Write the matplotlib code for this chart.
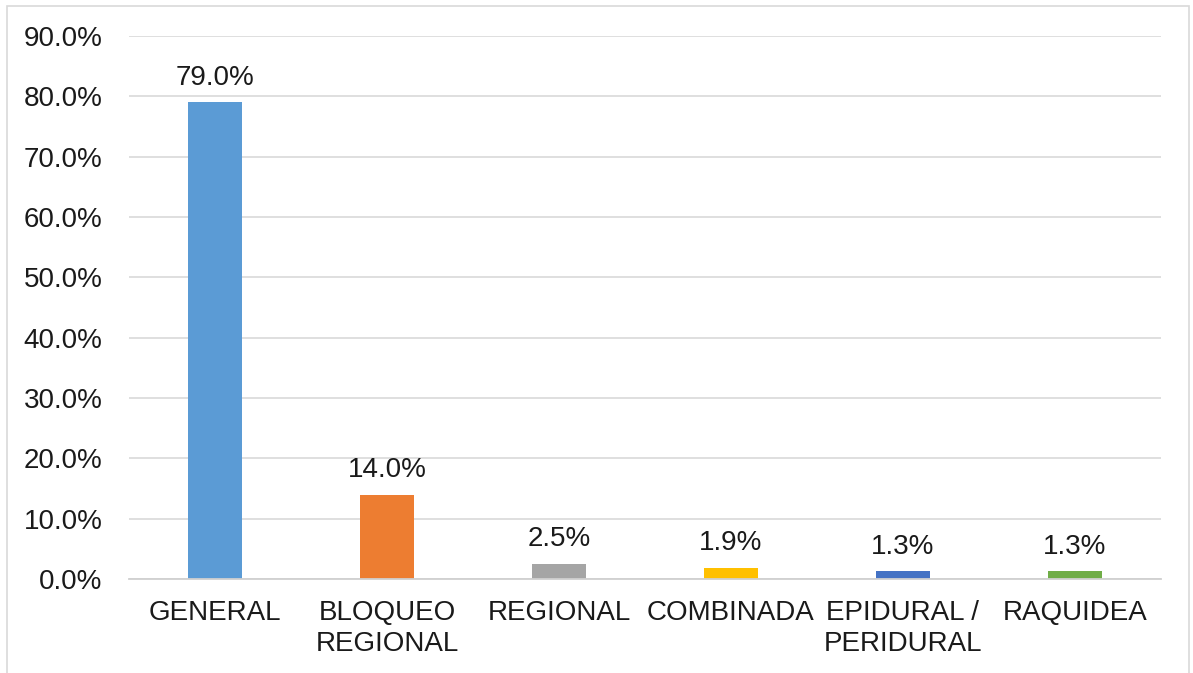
import matplotlib
matplotlib.use("Agg")
import matplotlib.pyplot as plt
from matplotlib.patches import Rectangle
from matplotlib.ticker import FuncFormatter

categories = ["GENERAL", "BLOQUEO\nREGIONAL", "REGIONAL", "COMBINADA", "EPIDURAL /\nPERIDURAL", "RAQUIDEA"]
values = [79.0, 14.0, 2.5, 1.9, 1.3, 1.3]
colors = ["#5B9BD5", "#ED7D31", "#A5A5A5", "#FFC000", "#4472C4", "#70AD47"]

plt.rcParams["font.family"] = ["Liberation Sans", "DejaVu Sans"]

W, H = 1193, 673
fs = 20
fig = plt.figure(figsize=(W / 100, H / 100), dpi=100)
ax = fig.add_axes([129 / W, 1 - 579 / H, (1161 - 129) / W, (579 - 36) / H])

x = range(len(categories))
ax.bar(x, values, width=0.314, color=colors, zorder=3)

# value labels sit a little above each bar
for xi, v in zip(x, values):
    ax.text(xi, v + 2.9, "{:.1f}%".format(v), ha="center", va="baseline", fontsize=fs, color="#1a1a1a")

ax.set_xlim(-0.5, len(categories) - 0.5)
ax.set_ylim(0, 90)
ax.set_yticks(range(0, 91, 10))
ax.yaxis.set_major_formatter(FuncFormatter(lambda v, p: "{:.1f}%".format(v)))
ax.set_xticks(list(x))
ax.set_xticklabels(categories, fontsize=fs, color="#1a1a1a", linespacing=1.26)
ax.tick_params(axis="y", labelsize=fs, labelcolor="#1a1a1a", length=0, pad=19)
ax.tick_params(axis="x", length=0, pad=15)

ax.grid(axis="y", color="#d9d9d9", linewidth=1.2, zorder=0)
for s in ["top", "right", "left"]:
    ax.spines[s].set_visible(False)
ax.spines["bottom"].set_color("#d0d0d0")
ax.spines["bottom"].set_linewidth(1.3)
ax.spines["bottom"].set_zorder(4)

fig.patches.append(Rectangle((7 / W, -0.02), (1189 - 7) / W, 1 - 6 / H + 0.02,
                             transform=fig.transFigure, fill=False,
                             edgecolor="#d9d9d9", linewidth=1.2))

fig.savefig("out.png", dpi=100, facecolor="white")
